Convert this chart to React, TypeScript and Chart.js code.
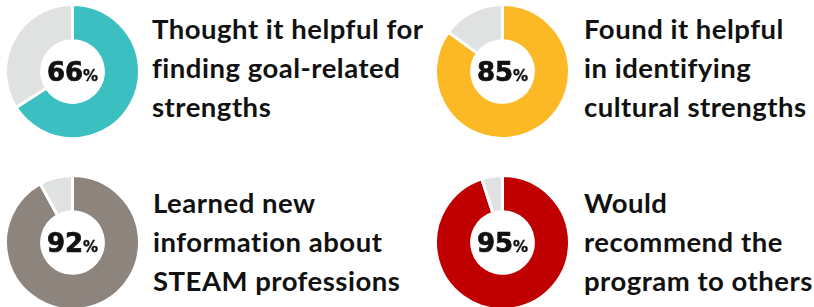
import React, { useEffect, useRef } from "react";
import { Chart, registerables } from "chart.js";

Chart.register(...registerables);

// ---- Data ----
const sliceLabels = ["Yes", "Other"];
const percents = [66, 85, 92, 95];
const remainders = [34, 15, 8, 5];
const captions = [
  ["Thought it helpful for", "finding goal-related", "strengths"],
  ["Found it helpful", "in identifying", "cultural strengths"],
  ["Learned new", "information about", "STEAM professions"],
  ["Would", "recommend the", "program to others"],
];
const colors = ["#3bbfc1", "#fdb825", "#8c847d", "#c00000"];
const restColor = "#dfe2e1";

// ---- Layout ----
const SIZE = 137;
const panels = [
  { cx: 4, cy: 3, tx: 152, ty: 9 },
  { cx: 434, cy: 3, tx: 584, ty: 9 },
  { cx: 4, cy: 174, tx: 153, ty: 183 },
  { cx: 434, cy: 174, tx: 584, ty: 183 },
];

function Donut(props: { value: number; rest: number; color: string; left: number; top: number }) {
  const ref = useRef<HTMLCanvasElement>(null);
  useEffect(() => {
    const chart = new Chart(ref.current as HTMLCanvasElement, {
      type: "doughnut",
      data: {
        labels: sliceLabels,
        datasets: [
          {
            data: [props.value, props.rest],
            backgroundColor: [props.color, restColor],
            borderColor: "#ffffff",
            borderWidth: 3,
            hoverOffset: 0,
          },
        ],
      },
      options: {
        responsive: false,
        animation: false,
        cutout: "46%",
        events: [],
        layout: { padding: 0 },
        plugins: { legend: { display: false }, tooltip: { enabled: false } },
      },
    });
    return () => chart.destroy();
  }, [props.value, props.rest, props.color]);
  return (
    <canvas
      ref={ref}
      width={SIZE}
      height={SIZE}
      style={{ position: "absolute", left: props.left, top: props.top, width: SIZE, height: SIZE }}
    />
  );
}

export default function App() {
  return (
    <div
      style={{
        position: "absolute",
        left: 0,
        top: 0,
        width: 814,
        height: 307,
        background: "#ffffff",
        overflow: "hidden",
      }}
    >
      {panels.map((p, i) => (
        <React.Fragment key={i}>
          <Donut value={percents[i]} rest={remainders[i]} color={colors[i]} left={p.cx} top={p.cy} />
          <div
            style={{
              position: "absolute",
              left: p.cx,
              top: p.cy + 57,
              width: SIZE,
              textAlign: "center",
              fontFamily: "'DejaVu Sans', sans-serif",
              fontWeight: 700,
              fontSize: 26,
              lineHeight: "25px",
              color: "#111111",
              whiteSpace: "nowrap",
              WebkitTextStroke: "0.7px #111111",
            }}
          >
            <span>{percents[i]}</span>
            <span style={{ fontSize: 15, WebkitTextStroke: "0.4px #111111" }}>%</span>
          </div>
          <div
            style={{
              position: "absolute",
              left: p.tx,
              top: p.ty,
              fontFamily: "Lato, sans-serif",
              fontWeight: 700,
              fontSize: 27.5,
              letterSpacing: "0.5px",
              lineHeight: "39px",
              color: "#111111",
              whiteSpace: "nowrap",
            }}
          >
            {captions[i].map((line, j) => (
              <div key={j}>{line}</div>
            ))}
          </div>
        </React.Fragment>
      ))}
    </div>
  );
}
